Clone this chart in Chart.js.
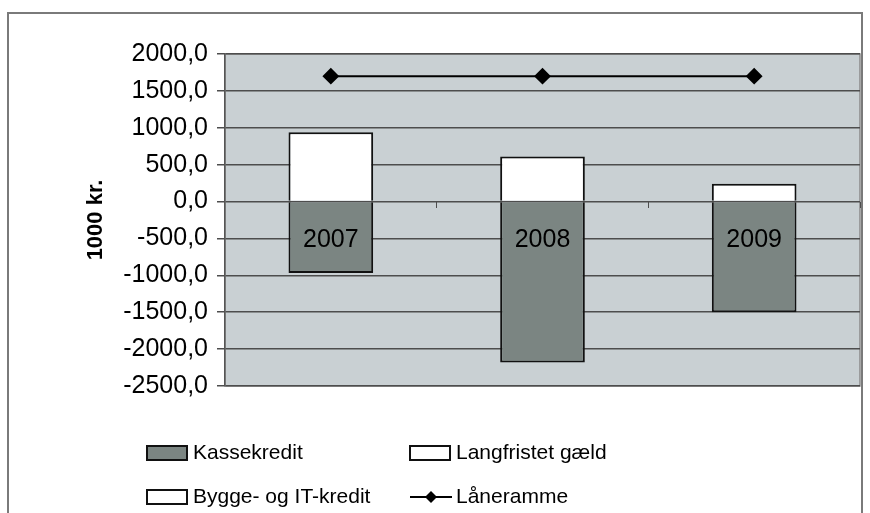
<!DOCTYPE html>
<html>
<head>
<meta charset="utf-8">
<script src="https://cdn.jsdelivr.net/npm/chart.js@4.4.1/dist/chart.umd.min.js"></script>
<style>
  html, body { margin: 0; padding: 0; background: #fff; }
  #wrap { width: 870px; height: 513px; }
</style>
</head>
<body>
<div id="wrap"><canvas id="chart" width="870" height="513"></canvas></div>
<script>
const years = ["2007", "2008", "2009"];
const kassekredit = [-970, -2180, -1500];
const langfristet = [940, 610, 240];
const byggeIT = [0, 0, 0];
const laaneramme = [1700, 1700, 1700];
const yTickValues = [2000, 1500, 1000, 500, 0, -500, -1000, -1500, -2000, -2500];

const FONT = "'Liberation Sans', Arial, sans-serif";
const ctx = document.getElementById("chart").getContext("2d");

function fmt(v) {
  return v.toFixed(1).replace(".", ",");
}

// plot background + outer frame
const backdrop = {
  id: "backdrop",
  beforeDraw(chart) {
    const { ctx, chartArea: a } = chart;
    ctx.save();
    ctx.fillStyle = "#fff";
    ctx.fillRect(0, 0, chart.width, chart.height);
    ctx.strokeStyle = "#7a7a7a";
    ctx.lineWidth = 2;
    ctx.strokeRect(8, 13, 854, 560);
    ctx.fillStyle = "#c9d0d3";
    ctx.fillRect(a.left, a.top, a.right - a.left, a.bottom - a.top);
    ctx.strokeStyle = "#8a8a8a";
    ctx.lineWidth = 1.5;
    ctx.strokeRect(a.left, a.top, a.right - a.left, a.bottom - a.top);
    ctx.restore();
  },
};

// 2x2 legend like the original
const gridLegend = {
  id: "gridLegend",
  afterDraw(chart) {
    const { ctx } = chart;
    const ds = chart.data.datasets;
    const cols = [147, 410];
    const rows = [453, 497];
    const order = [1, 2, 3, 0]; // Kassekredit, Langfristet, Bygge, Låneramme
    ctx.save();
    ctx.font = "21px " + FONT;
    ctx.textBaseline = "middle";
    ctx.fillStyle = "#000";
    order.forEach((idx, i) => {
      const d = ds[idx];
      const x = cols[i % 2];
      const y = rows[Math.floor(i / 2)];
      if (d.type === "line") {
        ctx.strokeStyle = d.borderColor;
        ctx.lineWidth = 2;
        ctx.beginPath();
        ctx.moveTo(x, y);
        ctx.lineTo(x + 42, y);
        ctx.stroke();
        ctx.fillStyle = d.pointBackgroundColor;
        ctx.beginPath();
        ctx.moveTo(x + 21, y - 6);
        ctx.lineTo(x + 27, y);
        ctx.lineTo(x + 21, y + 6);
        ctx.lineTo(x + 15, y);
        ctx.closePath();
        ctx.fill();
      } else {
        ctx.fillStyle = d.backgroundColor;
        ctx.fillRect(x, y - 7, 40, 14);
        ctx.strokeStyle = d.borderColor;
        ctx.lineWidth = 2;
        ctx.strokeRect(x, y - 7, 40, 14);
      }
      ctx.fillStyle = "#000";
      ctx.fillText(d.label, x + 46, y);
    });
    ctx.restore();
  },
};

new Chart(ctx, {
  data: {
    labels: years,
    datasets: [
      {
        type: "line",
        label: "Låneramme",
        data: laaneramme,
        borderColor: "#000",
        borderWidth: 2,
        pointStyle: "rectRot",
        pointRadius: 7,
        pointBackgroundColor: "#000",
        pointBorderColor: "#000",
        stack: "line",
        order: 0,
      },
      {
        type: "bar",
        label: "Kassekredit",
        data: kassekredit,
        backgroundColor: "#7b8582",
        borderColor: "#111",
        borderWidth: 2,
        stack: "bars",
        order: 1,
      },
      {
        type: "bar",
        label: "Langfristet gæld",
        data: langfristet,
        backgroundColor: "#fff",
        borderColor: "#111",
        borderWidth: 2,
        stack: "bars",
        order: 1,
      },
      {
        type: "bar",
        label: "Bygge- og IT-kredit",
        data: byggeIT,
        backgroundColor: "#fff",
        borderColor: "#111",
        borderWidth: 2,
        stack: "bars",
        order: 1,
      },
    ],
  },
  options: {
    responsive: false,
    devicePixelRatio: 1,
    animation: false,
    categoryPercentage: 1,
    barPercentage: 0.4,
    layout: { padding: { top: 54, right: 10, bottom: 127, left: 0 } },
    plugins: {
      legend: { display: false },
      tooltip: { enabled: false },
    },
    scales: {
      x: {
        type: "category",
        stacked: true,
        offset: true,
        position: { y: 0 },
        grid: {
          offset: true,
          drawOnChartArea: false,
          color: "#4d4d4d",
          tickLength: 6,
        },
        border: { display: false },
        ticks: {
          z: 1,
          color: "#000",
          font: { family: FONT, size: 25 },
          padding: 18,
          maxRotation: 0,
          autoSkip: false,
        },
      },
      y: {
        stacked: true,
        min: -2500,
        max: 2000,
        afterBuildTicks(scale) {
          scale.ticks = yTickValues.map((v) => ({ value: v }));
        },
        afterFit(scale) {
          scale.width = 225;
        },
        grid: { color: "#4d4d4d", lineWidth: 1.5, tickLength: 8 },
        border: { color: "#555", width: 1.5 },
        ticks: {
          color: "#000",
          font: { family: FONT, size: 25 },
          padding: 9,
          callback: (v) => fmt(v),
        },
        title: {
          display: true,
          text: "1000 kr.",
          color: "#000",
          font: { family: FONT, size: 22, weight: "bold" },
          padding: { top: 83, bottom: 0 },
        },
      },
    },
  },
  plugins: [backdrop, gridLegend],
});
</script>
</body>
</html>
